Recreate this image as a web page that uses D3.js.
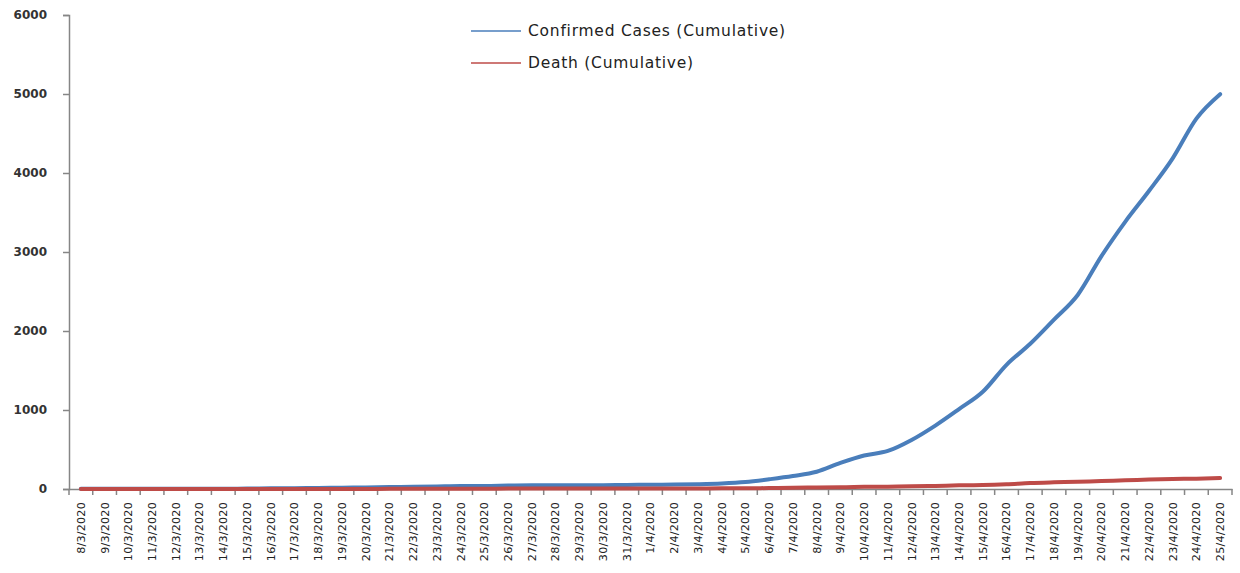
<!DOCTYPE html>
<html><head><meta charset="utf-8">
<script src="https://cdn.jsdelivr.net/npm/d3@7"></script>
<style>body{margin:0;background:#fff}svg{display:block}text{font-family:"DejaVu Sans",Verdana,sans-serif}</style>
</head><body><svg id="c" width="1240" height="573"></svg>
<script>
const dates = ["8/3/2020","9/3/2020","10/3/2020","11/3/2020","12/3/2020","13/3/2020","14/3/2020","15/3/2020","16/3/2020","17/3/2020","18/3/2020","19/3/2020","20/3/2020","21/3/2020","22/3/2020","23/3/2020","24/3/2020","25/3/2020","26/3/2020","27/3/2020","28/3/2020","29/3/2020","30/3/2020","31/3/2020","1/4/2020","2/4/2020","3/4/2020","4/4/2020","5/4/2020","6/4/2020","7/4/2020","8/4/2020","9/4/2020","10/4/2020","11/4/2020","12/4/2020","13/4/2020","14/4/2020","15/4/2020","16/4/2020","17/4/2020","18/4/2020","19/4/2020","20/4/2020","21/4/2020","22/4/2020","23/4/2020","24/4/2020","25/4/2020"];
const confirmed = [3,3,3,3,3,3,3,5,8,10,14,17,20,24,27,33,39,39,44,48,48,48,49,51,54,56,61,70,88,123,164,218,330,424,482,621,803,1012,1231,1572,1838,2144,2456,2948,3382,3772,4186,4689,4998];
const deaths = [0,0,0,0,0,0,0,0,0,0,1,1,1,2,2,3,4,4,5,5,5,5,5,5,6,6,6,8,9,12,17,20,21,27,30,34,39,46,50,60,75,84,91,101,110,120,127,131,140];
const yTicks = [0,1000,2000,3000,4000,5000,6000];
const seriesNames = ["Confirmed Cases (Cumulative)","Death (Cumulative)"];
const colors = ["#4a7ebb","#be4b48"];

const svg = d3.select("#c");
const L = 69, R = 1232, T = 15, B = 489;
const x = d3.scaleBand().domain(dates).range([L, R]);
const y = d3.scaleLinear().domain([0, 6000]).range([B, T]);
const axisColor = "#868686";

// Y axis
const ya = svg.append("g").attr("transform", `translate(${L},0)`)
  .call(d3.axisLeft(y).tickValues(yTicks).tickSize(6).tickPadding(16).tickFormat(d3.format("d")));
ya.select(".domain").attr("stroke", axisColor).attr("stroke-width", 1.5);
ya.selectAll(".tick line").attr("stroke", axisColor).attr("stroke-width", 1.5);
ya.selectAll("text").attr("font-size", 12).attr("font-weight", "bold").attr("fill", "#333");

// X axis
const xa = svg.append("g").attr("transform", `translate(0,${B})`)
  .call(d3.axisBottom(x).tickSize(0).tickSizeOuter(0));
xa.select(".domain").attr("stroke", axisColor).attr("stroke-width", 1.5);
const bounds = dates.map(d => x(d)).concat([R]);
xa.selectAll(".bt").data(bounds).enter().append("line")
  .attr("x1", d => d).attr("x2", d => d).attr("y1", 0).attr("y2", 6)
  .attr("stroke", axisColor).attr("stroke-width", 1.5);
xa.selectAll(".tick text")
  .attr("transform", "rotate(-90)")
  .attr("text-anchor", "end")
  .attr("x", -13).attr("y", 0).attr("dy", "0.35em")
  .attr("font-size", 11.2).attr("letter-spacing", 0.2).attr("fill", "#222");

// Lines
const cx = d => x(d) + x.bandwidth() / 2;
const line = d3.line().x(d => cx(d[0])).y(d => y(d[1])).curve(d3.curveMonotoneX);
[confirmed, deaths].forEach((vals, i) => {
  svg.append("path").datum(dates.map((d, j) => [d, vals[j]]))
    .attr("d", line).attr("fill", "none").attr("stroke", colors[i])
    .attr("stroke-width", 4).attr("stroke-linejoin", "round").attr("stroke-linecap", "round");
});

// Legend
const lg = svg.append("g");
seriesNames.forEach((n, i) => {
  const ly = 31 + i * 32;
  lg.append("line").attr("x1", 471).attr("x2", 521).attr("y1", ly).attr("y2", ly)
    .attr("stroke", colors[i]).attr("stroke-width", 1.5);
  lg.append("text").attr("x", 528).attr("y", ly).attr("dy", "0.35em")
    .attr("font-size", 15.5).attr("letter-spacing", 0.75).attr("fill", "#222").text(n);
});
</script></body></html>
